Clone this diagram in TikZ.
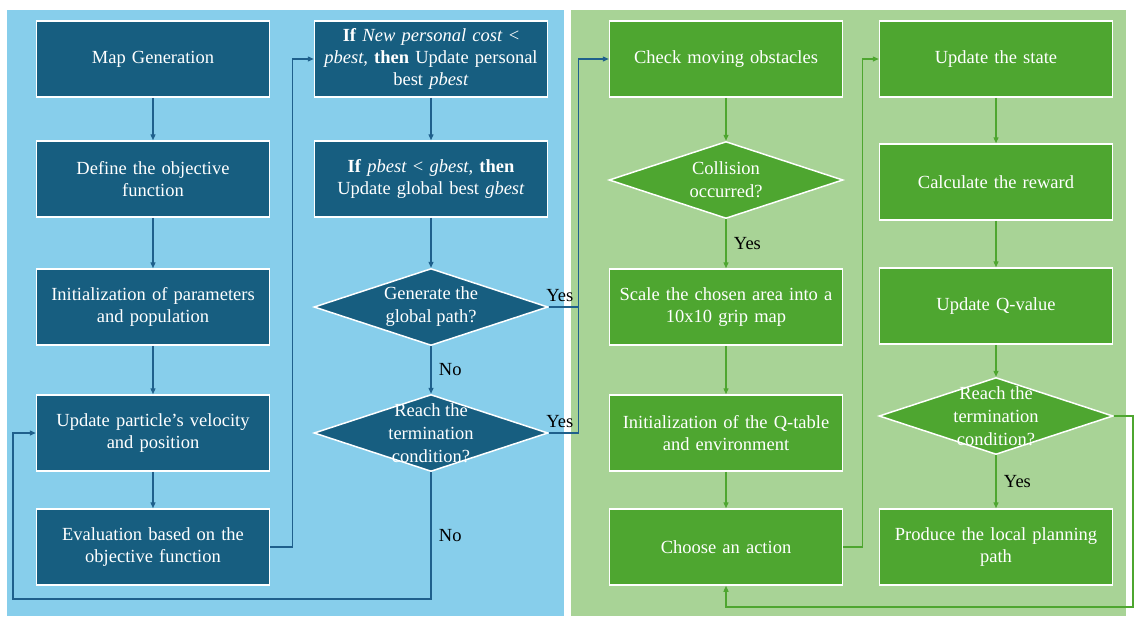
\documentclass[tikz,border=0pt]{standalone}
\usepackage{fontspec}
\setmainfont{Liberation Serif}
\definecolor{psopanel}{RGB}{135, 206, 235}
\definecolor{psobox}{RGB}{23, 94, 128}
\definecolor{psoline}{RGB}{31, 96, 140}
\definecolor{qlpanel}{RGB}{168, 211, 150}
\definecolor{qlbox}{RGB}{78, 166, 48}
\usepackage{tikz}
\usetikzlibrary{calc,arrows.meta,shapes.geometric}

\tikzset{
  stepbox/.style = {
    draw        = white,
    line width  = 1.5pt,
    minimum width  = 233pt,
    minimum height = 76pt,
    inner xsep  = 2pt,
    text width  = 228pt,
    align       = center,
    text        = white,
    font        = \fontsize{18.5}{22}\selectfont
  },
  decision/.style = {
    shape       = diamond,
    draw        = white,
    line width  = 1.5pt,
    inner sep   = 0pt,
    minimum width  = 234pt,
    minimum height = 77pt
  },
  decision text/.style = {
    align       = center,
    text        = white,
    font        = \fontsize{18.5}{23}\selectfont
  },
  answer/.style = {
    text        = black,
    font        = \fontsize{18.5}{20}\selectfont
  },
  psoarrow/.style = {draw = psoline, line width = 1.3pt, -{Triangle[length=6pt,width=5pt]}},
  qlarrow/.style  = {draw = qlbox,  line width = 1.3pt, -{Triangle[length=6pt,width=5pt]}}
}

\begin{document}
\begin{tikzpicture}[x=1pt, y=-1pt]
  \useasboundingbox (0,0) rectangle (1137,616);

  % background panels
  \fill[psopanel] (7,10) rectangle (564,616);
  \fill[qlpanel] (571,10) rectangle (1126,616);

  % PSO part
  \node[stepbox, fill=psobox] (mapgen)  at (153,59)  {Map Generation};
  \node[stepbox, fill=psobox] (objfun)  at (153,179) {Define the objective\\function};
  \node[stepbox, fill=psobox] (initpop) at (153,307) {Initialization of parameters\\and population};
  \node[stepbox, fill=psobox] (velpos)  at (153,433) {Update particle’s velocity\\and position};
  \node[stepbox, fill=psobox] (evalobj) at (153,547) {Evaluation based on the\\objective function};

  \node[stepbox, fill=psobox] (pbest) at (431,59)
    {\textbf{If} \textit{New personal cost} <\\ \textit{pbest}, \textbf{then} Update personal\\ best \textit{pbest}};
  \node[stepbox, fill=psobox] (gbest) at (431,179)
    {\textbf{If} \textit{pbest} < \textit{gbest}, \textbf{then}\\ Update global best \textit{gbest}};
  \node[decision, fill=psobox,
        label={[decision text]center:{Generate the\\global path?}}] (globpath) at (431,307) {};
  \node[decision, fill=psobox,
        label={[decision text]center:{Reach the\\termination\\condition?}}] (psoend) at (431,433) {};

  % Q-learning part
  \node[stepbox, fill=qlbox] (obstacles) at (726,59) {Check moving obstacles};
  \node[decision, fill=qlbox,
        label={[decision text]center:{Collision\\occurred?}}] (collision) at (726,180) {};
  \node[stepbox, fill=qlbox] (scalemap) at (726,307) {Scale the chosen area into a\\10x10 grip map};
  \node[stepbox, fill=qlbox] (qtable)   at (726,433) {Initialization of the Q-table\\and environment};
  \node[stepbox, fill=qlbox] (action)   at (726,547) {Choose an action};

  \node[stepbox, fill=qlbox] (state)   at (996,59)  {Update the state};
  \node[stepbox, fill=qlbox] (reward)  at (996,182) {Calculate the reward};
  \node[stepbox, fill=qlbox] (qvalue)  at (996,306) {Update Q-value};
  \node[decision, fill=qlbox,
        label={[decision text]center:{Reach the\\termination\\condition?}}] (qlend) at (996,416) {};
  \node[stepbox, fill=qlbox] (localpath) at (996,547) {Produce the local planning\\path};

  \coordinate (psoloop) at (13,599);
  \coordinate (qlloop)  at (1133,607);

  % PSO connectors
  \draw[psoarrow] (mapgen) -- (objfun);
  \draw[psoarrow] (objfun) -- (initpop);
  \draw[psoarrow] (initpop) -- (velpos);
  \draw[psoarrow] (velpos) -- (evalobj);
  \draw[psoarrow] (evalobj.east) -- ++(22,0) |- (pbest.west);
  \draw[psoarrow] (pbest) -- (gbest);
  \draw[psoarrow] (gbest) -- (globpath);
  \draw[psoarrow] (globpath) -- node[answer, right=4pt] {No} (psoend);
  \draw[psoarrow] (psoend.south) |- node[answer, pos=0.25, right=4pt] {No} (psoloop) |- (velpos.west);
  \draw[psoarrow] (globpath.east) -- ++(30,0) node[answer, midway, above=1pt, xshift=-4pt] {Yes} |- (obstacles.west);
  \draw[draw=psoline, line width=1.3pt] (psoend.east) -- node[answer, above=1pt, xshift=-4pt] {Yes} ++(30,0) -- ([xshift=30pt]globpath.east);

  % Q-learning connectors
  \draw[qlarrow] (obstacles) -- (collision);
  \draw[qlarrow] (collision) -- node[answer, right=4pt] {Yes} (scalemap);
  \draw[qlarrow] (scalemap) -- (qtable);
  \draw[qlarrow] (qtable) -- (action);
  \draw[qlarrow] (action.east) -- ++(19,0) |- (state.west);
  \draw[qlarrow] (state) -- (reward);
  \draw[qlarrow] (reward) -- (qvalue);
  \draw[qlarrow] (qvalue) -- (qlend);
  \draw[qlarrow] (qlend) -- node[answer, right=4pt] {Yes} (localpath);
  \draw[qlarrow] (qlend.east) -| (qlloop) -| (action.south);
\end{tikzpicture}
\end{document}
